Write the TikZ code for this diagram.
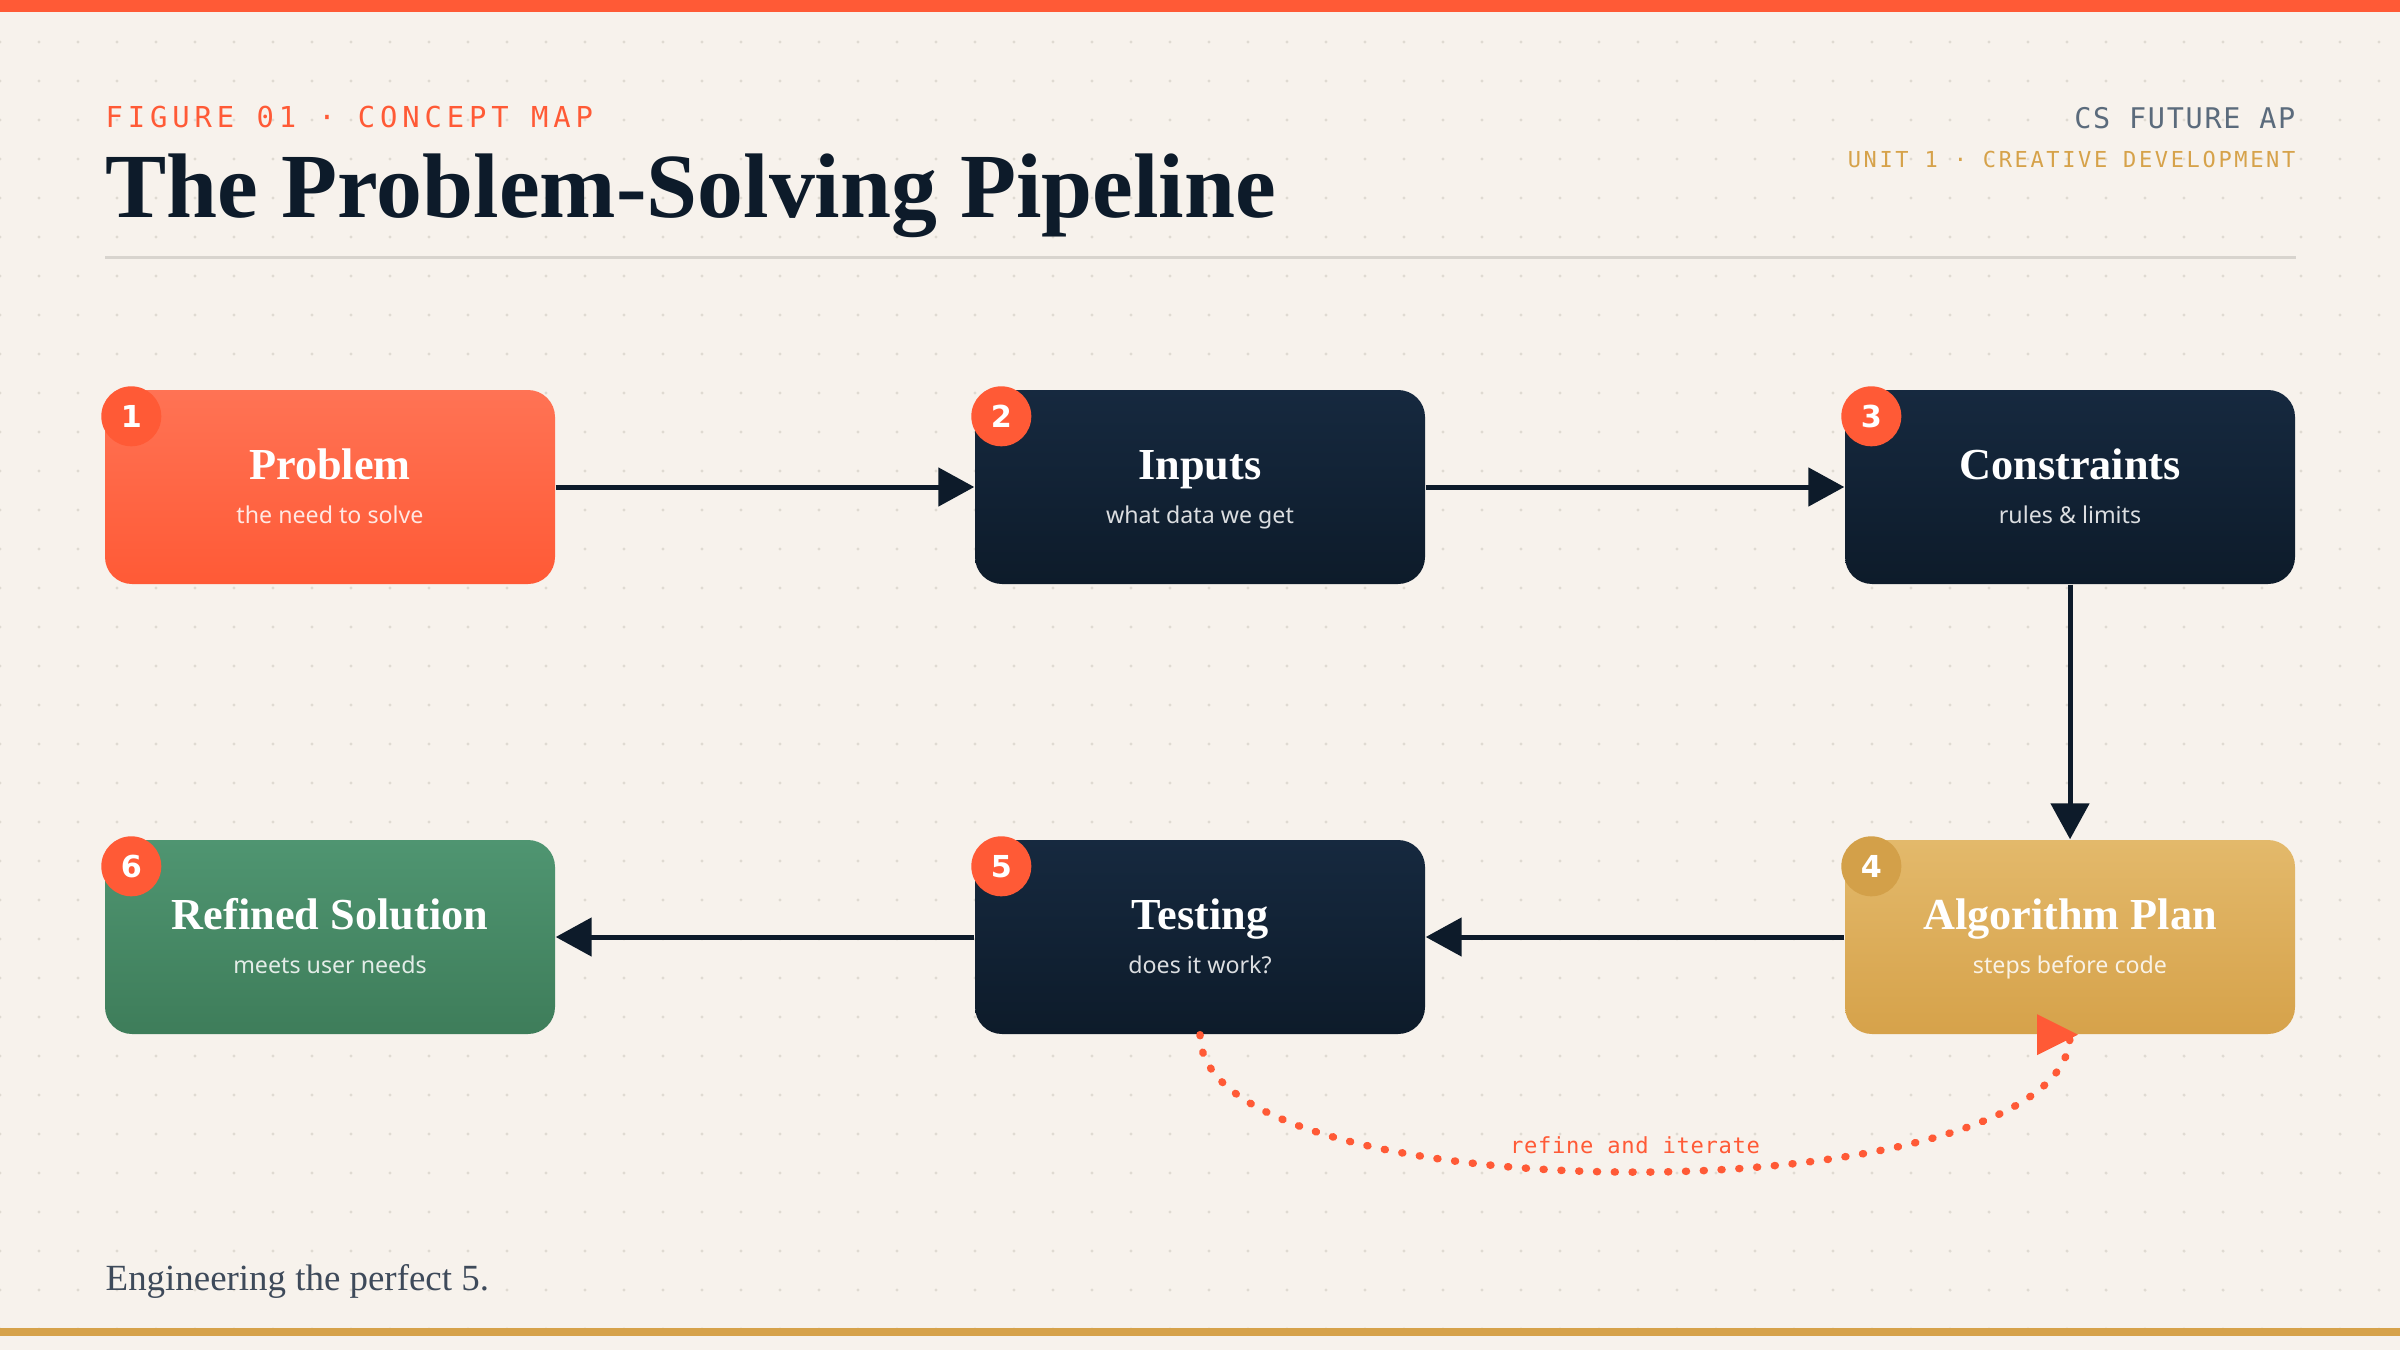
\documentclass[tikz,border=0pt]{standalone}
\usepackage{fontspec}
\setmainfont{Liberation Serif}
\setsansfont{Noto Sans}
\newfontfamily\monofont{DejaVu Sans Mono}
\newfontfamily\badgefont{DejaVu Sans}
\usetikzlibrary{arrows.meta, positioning}

\definecolor{paper}{HTML}{F7F2EC}
\definecolor{ink}{HTML}{0D1B2A}
\definecolor{inktop}{HTML}{16293F}
\definecolor{coral}{HTML}{FF5A36}
\definecolor{gold}{HTML}{D6A24A}
\definecolor{goldtop}{HTML}{E3B96B}
\definecolor{badgegold}{HTML}{D3A049}
\definecolor{pine}{HTML}{3E7D5A}
\definecolor{pinetop}{HTML}{4F9571}
\definecolor{slate}{HTML}{5B6B7C}
\definecolor{rulegray}{HTML}{D8D4CE}
\definecolor{dotgray}{HTML}{DFDAD2}
\definecolor{footink}{HTML}{3E4A5A}

\begin{document}
\begin{tikzpicture}[node distance=8.7cm, on grid, >={Triangle[length=3.6mm,width=3.8mm]},
      stepbox/.style={rectangle, rounded corners=2.7mm, minimum width=4.5cm, minimum height=1.94cm, inner sep=0pt},
      coralbox/.style={stepbox, top color=coral!85!white, bottom color=coral},
      navybox/.style={stepbox, top color=inktop, bottom color=ink},
      goldbox/.style={stepbox, top color=goldtop, bottom color=gold},
      pinebox/.style={stepbox, top color=pinetop, bottom color=pine},
      boxtitle/.style={anchor=base, inner sep=0pt, text=white, font=\bfseries\fontsize{12.6}{15}\selectfont},
      boxsub/.style={anchor=base, inner sep=0pt, text=white, text opacity=0.85, font=\sffamily\fontsize{6.6}{8}\selectfont},
      badge/.style={circle, minimum size=6mm, inner sep=0pt, text=white, font=\badgefont\bfseries\fontsize{8.6}{9}\selectfont},
      flow/.style={->, color=ink, line width=0.5mm},
      refine/.style={draw=coral, line width=0.75mm, line cap=round, dash pattern=on 0.1mm off 1.68mm}]

  % page and dot grid
  \useasboundingbox (0,0) rectangle (24,13.5);
  \fill[paper] (0,0) rectangle (24,13.5);
  \foreach \i in {0,...,61}
    \foreach \j in {0,...,34}
      \fill[dotgray] (\i*0.39,13.47-\j*0.39) circle (0.17mm);
  \fill[coral] (0,13.38) rectangle (24,13.5);
  \fill[gold] (0,0.14) rectangle (24,0.22);

  % header
  \node[anchor=base west, inner sep=0pt, text=coral,
        font=\monofont\addfontfeature{LetterSpace=17}\fontsize{8.2}{10}\selectfont] (kicker) at (1.05,12.22) {FIGURE 01 · CONCEPT MAP};
  \node[anchor=base west, inner sep=0pt, text=ink,
        font=\bfseries\fontsize{26.1}{30}\selectfont] (headline) at (1.05,11.32) {The Problem-Solving Pipeline};
  \node[anchor=base east, inner sep=0pt, text=slate,
        font=\monofont\addfontfeature{LetterSpace=6}\fontsize{8.1}{10}\selectfont] (course) at (22.96,12.21) {CS FUTURE AP};
  \node[anchor=base east, inner sep=0pt, text=gold,
        font=\monofont\addfontfeature{LetterSpace=12}\fontsize{6.26}{8}\selectfont] (unit) at (22.96,11.82) {UNIT 1 · CREATIVE DEVELOPMENT};
  \draw[rulegray, line width=0.3mm] (1.05,10.92) -- (22.96,10.92);

  % steps
  \node[coralbox]                 (prob) at (3.30,8.63)         {};
  \node[navybox]                  (inp)  [right=of prob]        {};
  \node[navybox]                  (cons) [right=of inp]         {};
  \node[goldbox]                  (algo) [below=4.5cm of cons]  {};
  \node[navybox]                  (test) [left=of algo]         {};
  \node[pinebox]                  (sol)  [left=of test]         {};

  \foreach \n/\t/\s/\k/\c in {prob/Problem/the need to solve/1/coral,
                              inp/Inputs/what data we get/2/coral,
                              cons/Constraints/rules \& limits/3/coral,
                              algo/Algorithm Plan/steps before code/4/badgegold,
                              test/Testing/does it work?/5/coral,
                              sol/Refined Solution/meets user needs/6/coral}{
    \node[boxtitle] (\n-t) at ([yshift=0.8mm]\n.center) {\t};
    \node[boxsub]   (\n-s) at ([yshift=-3.6mm]\n.center) {\s};
    \node[badge, fill=\c] (\n-b) at ([shift={(2.7mm,-2.7mm)}]\n.north west) {\k};
  }

  % connectors
  \path[flow] (prob) edge (inp)
              (inp)  edge (cons)
              (cons) edge (algo)
              (algo) edge (test)
              (test) edge (sol);

  \path (test.south) edge[refine, out=-90, in=-90, looseness=0.54]
        node[anchor=base, yshift=1.9mm, inner sep=0pt, text=coral,
             font=\monofont\addfontfeature{LetterSpace=3}\fontsize{6.3}{8}\selectfont] (loop) {refine and iterate} (algo.south);
  \fill[coral] ([xshift=0.8mm]algo.south) -- ++(-4.1mm,2.05mm) -- ++(0,-4.1mm) -- cycle;

  % footer
  \node[anchor=base west, inner sep=0pt, text=footink,
        font=\fontsize{10.5}{12}\selectfont] (motto) at (1.05,0.60) {Engineering the perfect 5.};
\end{tikzpicture}
\end{document}
